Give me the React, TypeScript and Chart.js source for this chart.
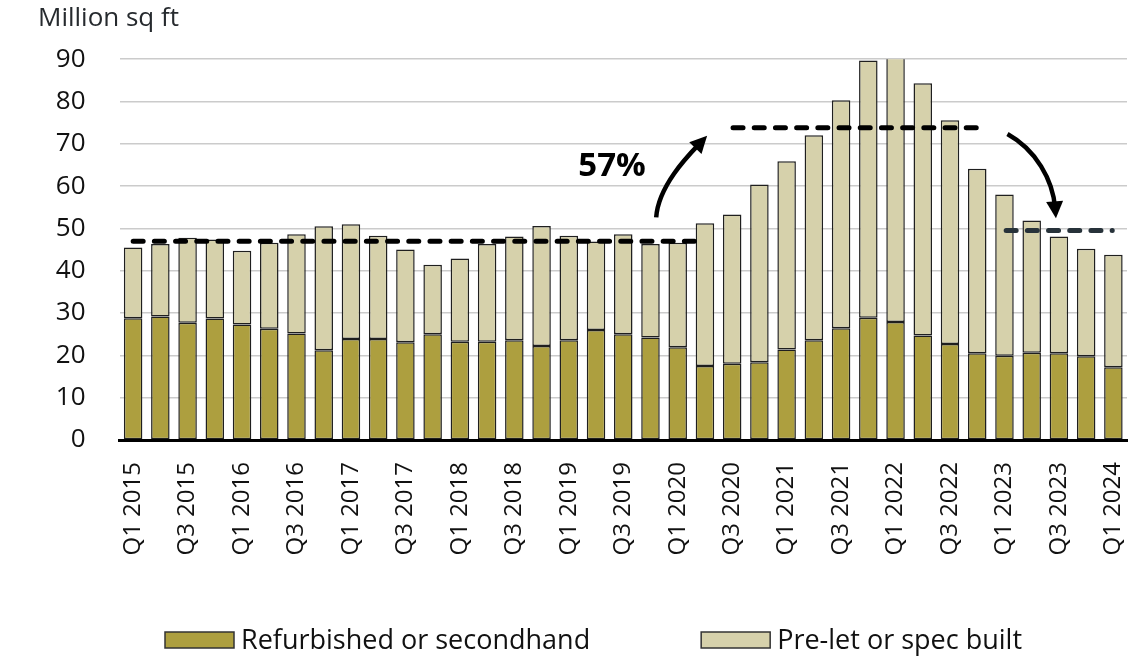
import React, { useEffect, useRef } from "react";
import { Chart, registerables } from "chart.js";

Chart.register(...registerables);

// ---------- data ----------
const quarters = [
  "Q1 2015", "Q2 2015", "Q3 2015", "Q4 2015",
  "Q1 2016", "Q2 2016", "Q3 2016", "Q4 2016",
  "Q1 2017", "Q2 2017", "Q3 2017", "Q4 2017",
  "Q1 2018", "Q2 2018", "Q3 2018", "Q4 2018",
  "Q1 2019", "Q2 2019", "Q3 2019", "Q4 2019",
  "Q1 2020", "Q2 2020", "Q3 2020", "Q4 2020",
  "Q1 2021", "Q2 2021", "Q3 2021", "Q4 2021",
  "Q1 2022", "Q2 2022", "Q3 2022", "Q4 2022",
  "Q1 2023", "Q2 2023", "Q3 2023", "Q4 2023",
  "Q1 2024",
];

const refurbished = [
  28.8, 29.2, 27.7, 28.7, 27.3, 26.3, 25.2, 21.2, 23.9, 23.9,
  23.1, 25.0, 23.2, 23.2, 23.6, 22.2, 23.6, 26.0, 25.0, 24.2,
  21.9, 17.5, 18.0, 18.4, 21.4, 23.6, 26.4, 28.9, 27.9, 24.7,
  22.7, 20.5, 19.9, 20.6, 20.5, 19.8, 17.2,
];

const preLetOrSpec = [
  16.7, 17.1, 20.1, 18.7, 17.4, 20.3, 23.4, 29.3, 27.1, 24.4,
  21.9, 16.4, 19.7, 23.1, 24.5, 28.4, 24.7, 20.9, 23.6, 22.1,
  24.7, 33.7, 35.3, 42.0, 44.5, 48.4, 53.9, 60.8, 63.4, 59.6,
  52.9, 43.6, 38.1, 31.3, 27.6, 25.4, 26.6,
];

const seriesNames = ["Refurbished or secondhand", "Pre-let or spec built"];
const yAxisTitle = "Million sq ft";
const yMin = 0;
const yMax = 90;
const yStep = 10;

// average-level dashed lines (value, category index range)
const averageLevels = [47.0, 73.8, 49.5];
const averageFrom = [-0.09, 21.94, 31.97];
const averageTo = [20.84, 31.1, 36.05];

// change annotation
const changeLabel = "57%";
const changeLabelAt = [17.59, 64.6]; // [category index, value]

// curved arrows: cubic control points in [category index, value]
const arrowUp = [
  [19.21, 52.6],
  [19.29, 60.3],
  [20.47, 67.8],
  [21.08, 71.9],
];
const arrowDown = [
  [32.11, 72.3],
  [33.15, 68.6],
  [33.78, 61.5],
  [33.89, 52.4],
];

// ---------- styles ----------
const FONT = '"Open Sans", "Noto Sans", sans-serif';
const COLOR_REFURB = "#ad9f3f";
const COLOR_PRELET = "#d6d1ab";
const COLOR_EDGE = "#1f1f1f";
const TEXT = "#111111";

const annotationPlugin = {
  id: "annotations",
  afterDatasetsDraw(chart: any) {
    const { ctx, scales } = chart;
    const xs = scales.x;
    const ys = scales.y;
    const px = (v: number) => xs.getPixelForValue(v);
    const py = (v: number) => ys.getPixelForValue(v);
    ctx.save();

    // dashed average lines
    const lineColors = ["#000000", "#000000", "#27323a"];
    ctx.lineWidth = 5;
    ctx.lineCap = "round";
    ctx.setLineDash([10, 11.2]);
    averageLevels.forEach((lvl, i) => {
      ctx.strokeStyle = lineColors[i];
      ctx.beginPath();
      ctx.moveTo(px(averageFrom[i]) + 2.5, py(lvl));
      ctx.lineTo(px(averageTo[i]) - 2.5, py(lvl));
      ctx.stroke();
    });
    ctx.setLineDash([]);

    // arrows
    const drawArrow = (pts: number[][]) => {
      const p = pts.map(([a, b]) => [px(a), py(b)]);
      const [p0, p1, p2, p3] = p;
      let dx = p3[0] - p2[0];
      let dy = p3[1] - p2[1];
      const len = Math.hypot(dx, dy) || 1;
      dx /= len;
      dy /= len;
      const headLen = 17;
      const headHalf = 8.5;
      const end = [p3[0] - dx * 10, p3[1] - dy * 10];
      ctx.strokeStyle = "#000";
      ctx.lineWidth = 4.5;
      ctx.lineCap = "butt";
      ctx.beginPath();
      ctx.moveTo(p0[0], p0[1]);
      ctx.bezierCurveTo(p1[0], p1[1], p2[0], p2[1], end[0], end[1]);
      ctx.stroke();
      const bx = p3[0] - dx * headLen;
      const by = p3[1] - dy * headLen;
      ctx.fillStyle = "#000";
      ctx.beginPath();
      ctx.moveTo(p3[0], p3[1]);
      ctx.lineTo(bx - dy * headHalf, by + dx * headHalf);
      ctx.lineTo(bx + dy * headHalf, by - dx * headHalf);
      ctx.closePath();
      ctx.fill();
    };
    drawArrow(arrowUp);
    drawArrow(arrowDown);

    // change label
    ctx.fillStyle = "#000";
    ctx.font = `bold 33px ${FONT}`;
    ctx.textAlign = "center";
    ctx.textBaseline = "middle";
    ctx.fillText(changeLabel, px(changeLabelAt[0]), py(changeLabelAt[1]));

    ctx.restore();
  },
};

const legendPlugin = {
  id: "bottomLegend",
  afterDraw(chart: any) {
    const { ctx } = chart;
    const boxW = 69;
    const boxH = 16;
    const gapText = 7;
    const gapItem = 111;
    const yc = 640;
    let x = 165;
    ctx.save();
    ctx.font = `27px ${FONT}`;
    ctx.textBaseline = "middle";
    ctx.textAlign = "left";
    chart.data.datasets.forEach((ds: any) => {
      ctx.fillStyle = ds.backgroundColor;
      ctx.fillRect(x, yc - boxH / 2, boxW, boxH);
      ctx.strokeStyle = "#333";
      ctx.lineWidth = 1.5;
      ctx.strokeRect(x, yc - boxH / 2, boxW, boxH);
      ctx.fillStyle = TEXT;
      ctx.fillText(ds.label, x + boxW + gapText, yc + 1);
      x += boxW + gapText + ctx.measureText(ds.label).width + gapItem;
    });
    ctx.restore();
  },
};

export default function App() {
  const canvasRef = useRef<HTMLCanvasElement | null>(null);

  useEffect(() => {
    if (!canvasRef.current) return;
    const chart = new Chart(canvasRef.current, {
      type: "bar",
      data: {
        labels: quarters,
        datasets: [
          {
            label: seriesNames[0],
            data: refurbished,
            backgroundColor: COLOR_REFURB,
            borderColor: COLOR_EDGE,
            borderWidth: 1.5,
            borderSkipped: false,
            barPercentage: 0.68,
            categoryPercentage: 1,
            clip: 0,
          } as any,
          {
            label: seriesNames[1],
            data: preLetOrSpec,
            backgroundColor: COLOR_PRELET,
            borderColor: COLOR_EDGE,
            borderWidth: 1.5,
            borderSkipped: false,
            barPercentage: 0.68,
            categoryPercentage: 1,
            clip: 0,
          } as any,
        ],
      },
      options: {
        animation: false,
        responsive: true,
        maintainAspectRatio: false,
        events: [],
        layout: { padding: { left: 38, right: 15, top: 0, bottom: 91 } },
        plugins: {
          legend: { display: false },
          tooltip: { enabled: false },
          title: {
            display: true,
            text: yAxisTitle,
            align: "start",
            color: "#262a2e",
            font: { family: FONT, size: 26, weight: "normal" },
            padding: { top: 3, bottom: 25 },
          },
        },
        scales: {
          x: {
            stacked: true,
            offset: true,
            z: 1,
            grid: { display: false, drawTicks: false },
            border: { display: true, color: "#000", width: 3 },
            ticks: {
              autoSkip: false,
              minRotation: 90,
              maxRotation: 90,
              padding: 22,
              color: TEXT,
              font: { family: FONT, size: 24 },
              callback: (_v: any, i: number) => (i % 2 === 0 ? quarters[i] : ""),
            },
            afterFit: (s: any) => {
              s.height = 130;
              s.paddingLeft = 0;
              s.paddingRight = 0;
            },
          },
          y: {
            stacked: true,
            min: yMin,
            max: yMax,
            grid: { color: "#cbcbcb", lineWidth: 1.5, drawTicks: false },
            border: { display: false },
            ticks: {
              stepSize: yStep,
              padding: 34,
              color: TEXT,
              font: { family: FONT, size: 26 },
            },
            afterFit: (s: any) => {
              s.width = 81.5;
            },
          },
        },
      } as any,
      plugins: [annotationPlugin, legendPlugin],
    });
    return () => chart.destroy();
  }, []);

  return (
    <div style={{ position: "absolute", left: 0, top: 0, width: 1142, height: 661, background: "#fff" }}>
      <canvas ref={canvasRef} />
    </div>
  );
}
